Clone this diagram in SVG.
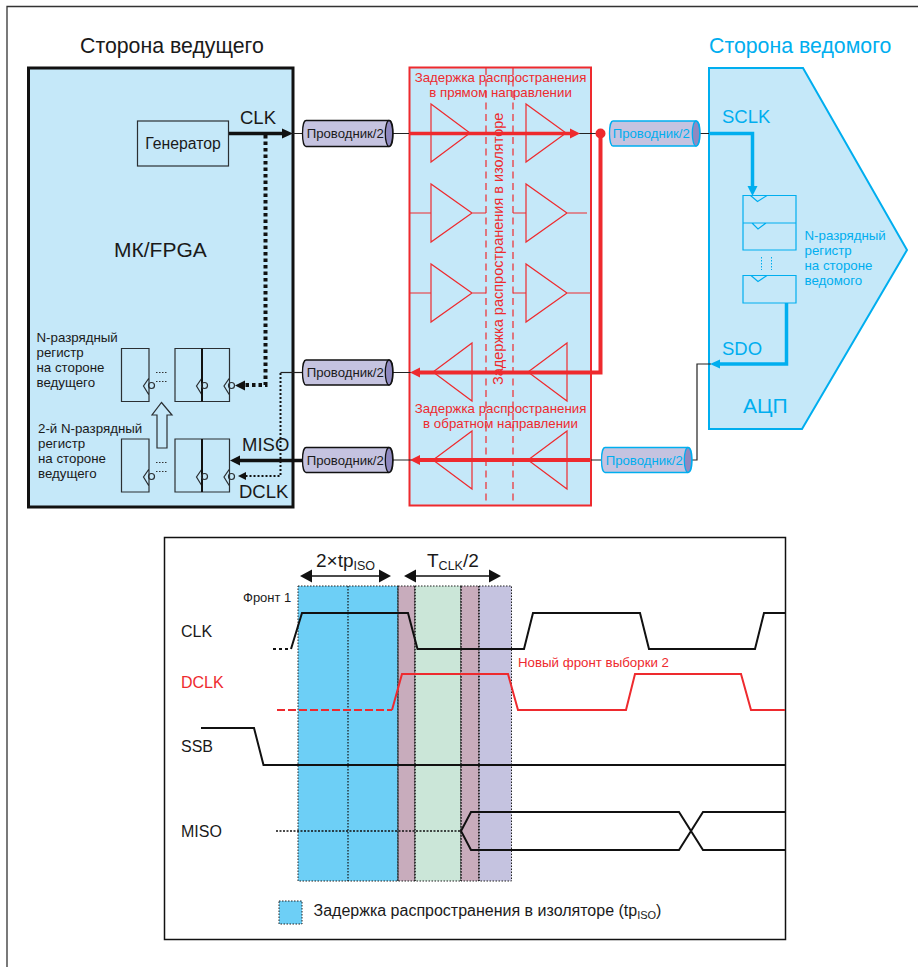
<svg xmlns="http://www.w3.org/2000/svg" width="918" height="967" viewBox="0 0 918 967">
<style>
text{font-family:"Liberation Sans",Arial,sans-serif;fill:#1a1a1a}
.r{fill:#ee2a2e}.b{fill:#00aeef}
.box{fill:#c5e8f9}
.reg{fill:none;stroke:#2b2f33;stroke-width:1.2}
.regb{fill:none;stroke:#00aeef;stroke-width:1.2}
.tri{fill:none;stroke:#ee2a2e;stroke-width:1.2}
.thin{fill:none;stroke:#222;stroke-width:1.2}
.dash{fill:none;stroke:#ee2a2e;stroke-width:1.2;stroke-dasharray:7 4.5}
.cyl{fill:#c5c3e0;stroke:#111;stroke-width:1.3}
.cylb{fill:#c5c3e0;stroke:#00aeef;stroke-width:1.3}
.end{fill:#8f89c0}
.band{stroke:#222;stroke-width:1;stroke-dasharray:1.5 1.5}
.sep{fill:none;stroke:#111;stroke-width:1.2;stroke-dasharray:1.5 1.5}
.w{fill:none;stroke:#111;stroke-width:2}
.wr{fill:none;stroke:#ee2a2e;stroke-width:2}
</style>
<path id="frame" d="M7 967V6.5H918" fill="none" stroke="#333" stroke-width="1.3"/>
<g id="master">
<rect x="28.500" y="68" width="264.500" height="439" class="box" stroke="#111" stroke-width="3"/>
<text x="80" y="53" font-size="21.300">Сторона ведущего</text>
<text x="114" y="257" font-size="21">МК/FPGA</text>
<text x="240" y="124" font-size="18.500">CLK</text>
<text x="242" y="451" font-size="18.500">MISO</text>
<text x="239" y="498" font-size="18.500">DCLK</text>
</g>
<g id="generator"><rect x="137.500" y="121" width="91" height="45" class="reg"/><text x="183" y="148.500" font-size="15.800" text-anchor="middle">Генератор</text></g>
<g id="master-register-1">
<path class="reg" d="M121.500 348.500h27.500v53h-27.500zM175 348.500h54.500v53h-54.500zM149 378l-5.500 8 5.500 9M202 378l-5.500 8 5.500 9M229.500 378l-5.500 8 5.500 9"/>
<path d="M202 348.500v53" stroke="#111" stroke-width="2" fill="none"/>
<g class="reg"><circle cx="151.500" cy="385.500" r="3"/><circle cx="204.500" cy="385.500" r="3"/><circle cx="231.500" cy="385.500" r="3"/></g>
<path d="M156 372.500h12M156 381.500h12" stroke="#333" stroke-dasharray="1.500 1.500" fill="none"/>
<text font-size="13.300"><tspan x="36.500" y="342">N-разрядный</tspan><tspan x="36.500" y="357">регистр</tspan><tspan x="36.500" y="372">на стороне</tspan><tspan x="36.500" y="387">ведущего</tspan></text>
</g>
<g id="master-register-2">
<path class="reg" d="M121.500 439h27.500v53h-27.500zM175 439h54.500v53h-54.500zM149 469l-5.500 8 5.500 9M202 469l-5.500 8 5.500 9M229.500 469l-5.500 8 5.500 9"/>
<path d="M202 439v53" stroke="#111" stroke-width="2" fill="none"/>
<g class="reg"><circle cx="151.500" cy="476.500" r="3"/><circle cx="204.500" cy="476.500" r="3"/><circle cx="231.500" cy="476.500" r="3"/></g>
<path d="M156 462.500h12M156 471.500h12" stroke="#333" stroke-dasharray="1.500 1.500" fill="none"/>
<text font-size="13.300"><tspan x="38" y="433">2-й N-разрядный</tspan><tspan x="38" y="448">регистр</tspan><tspan x="38" y="463">на стороне</tspan><tspan x="38" y="478">ведущего</tspan></text>
</g>
<path id="transfer-arrow" d="M161.500 402.500l10.500 12.500h-5v33h-10v-33h-5z" fill="none" stroke="#2b2f33" stroke-width="1.200"/>
<g id="isolator">
<rect x="409.500" y="67.500" width="181.500" height="438" class="box" stroke="#ee2a2e" stroke-width="2"/>
<path class="dash" d="M486 68V505M513 68V505"/>
<g class="tri">
<path d="M431 104V162L470 133ZM526 104V162L566 133Z"/>
<path d="M431 184V242L472 213ZM526 184V242L567 213ZM410 213H431M472 213H486M513 213H526M567 213H587"/>
<path d="M431 264V322L472 293ZM526 264V322L567 293ZM410 293H431M472 293H486M513 293H526M567 293H590"/>
<path d="M472 343V401L433 372ZM567 343V401L528 372Z"/>
<path d="M472 431V489L433 460ZM567 431V489L528 460Z"/>
</g>
<text class="r" x="500.500" y="82" text-anchor="middle" font-size="13.300">Задержка распространения</text>
<text class="r" x="500.500" y="97" text-anchor="middle" font-size="13.300">в прямом направлении</text>
<text class="r" x="500.500" y="413" text-anchor="middle" font-size="13.300">Задержка распространения</text>
<text class="r" x="500.500" y="428" text-anchor="middle" font-size="13.300">в обратном направлении</text>
<text class="r" transform="translate(503 385) rotate(-90)" font-size="14.500">Задержка распространения в изоляторе</text>
</g>
<g id="slave">
<path d="M709 68H803L907 250L802 429H709Z" class="box" stroke="#00aeef" stroke-width="2"/>
<text class="b" x="709" y="53" font-size="21.300">Сторона ведомого</text>
<text class="b" x="722" y="123" font-size="18.500">SCLK</text>
<text class="b" x="722" y="355" font-size="18.500">SDO</text>
<text class="b" x="743" y="413" font-size="21">АЦП</text>
</g>
<g id="slave-register">
<path class="regb" d="M743 195.500h53v27.500h-53zM743 223h53v27h-53zM743 275.500h53v27.500h-53zM750.500 195.500l7 6 9.500-6M752 223l6 6 8-6M751 275.500l7 6 9-6"/>
<path d="M761.500 257v13M771.500 257v13" stroke="#00aeef" stroke-dasharray="1.500 1.500" fill="none"/>
<text class="b" font-size="13.300"><tspan x="804.500" y="240">N-разрядный</tspan><tspan x="804.500" y="255">регистр</tspan><tspan x="804.500" y="270">на стороне</tspan><tspan x="804.500" y="285">ведомого</tspan></text>
</g>
<g id="connectors">
<path class="thin" d="M283 133.500H303M392 133.500H600M698 133.500H709M392 372.500H412M392 460H412M591 460H603M691 460H697V364H711" stroke-width="1.200"/>
<path d="M303 372.500H280.500" class="thin"/>
<path d="M280.500 373V476H240" fill="none" stroke="#111" stroke-width="2" stroke-dasharray="2 2"/>
<path d="M229 133.500H283" stroke="#111" stroke-width="3.500" fill="none"/>
<path d="M293 133.500L282 128.500V138.500Z" fill="#111"/>
<path d="M265.500 135V385H244" fill="none" stroke="#111" stroke-width="4" stroke-dasharray="3.500 3"/>
<path d="M235 385.500L245 380.500V390.500Z" fill="#111"/>
<path d="M238 476L246 472V480Z" fill="#111"/>
<path d="M303 460.500H240" stroke="#111" stroke-width="3.500" fill="none"/>
<path d="M230 460.500L240 455.500V465.500Z" fill="#111"/>
<path d="M409 133.500H571" stroke="#ee2a2e" stroke-width="3.500" fill="none"/>
<path d="M580 133.500L570 128.500V138.500Z" fill="#ee2a2e"/>
<circle cx="600.500" cy="133.500" r="5" fill="#ee2a2e"/>
<path d="M600.500 133.500V372.500H420" stroke="#ee2a2e" stroke-width="4" fill="none"/>
<path d="M410 372.500L420 367.500V377.500Z" fill="#ee2a2e"/>
<path d="M591 460H420" stroke="#ee2a2e" stroke-width="4" fill="none"/>
<path d="M410 460L420 455V465Z" fill="#ee2a2e"/>
<path d="M709 133.500H752.500V187" stroke="#00aeef" stroke-width="3.500" fill="none"/>
<path d="M752.500 196L747.500 186H757.500Z" fill="#00aeef"/>
<path d="M786.500 303V364H720" stroke="#00aeef" stroke-width="3.500" fill="none"/>
<path d="M710 364L720 359.500V368.500Z" fill="#00aeef"/>
</g>
<g id="wire-1"><path class="cyl" d="M306 120.500H389c2.500 0 4 5.500 4 13s-1.500 13-4 13H306c-2 0-3.500-5.500-3.500-13s1.500-13 3.500-13Z"/><ellipse class="cyl end" cx="389" cy="133.500" rx="3.700" ry="13"/><text x="306.700" y="138" font-size="13.200">Проводник/2</text></g>
<g id="wire-2"><path class="cyl" d="M306 360H389c2.500 0 4 5.500 4 12.500s-1.500 12.500-4 12.500H306c-2 0-3.500-5.500-3.500-12.500s1.500-12.500 3.500-12.500Z"/><ellipse class="cyl end" cx="389" cy="372.500" rx="3.700" ry="12.500"/><text x="306.700" y="377" font-size="13.200">Проводник/2</text></g>
<g id="wire-3"><path class="cyl" d="M306 447.500H389c2.500 0 4 5.500 4 12.500s-1.500 12.500-4 12.500H306c-2 0-3.500-5.500-3.500-12.500s1.500-12.500 3.500-12.500Z"/><ellipse class="cyl end" cx="389" cy="460" rx="3.700" ry="12.500"/><text x="306.700" y="464.500" font-size="13.200">Проводник/2</text></g>
<g id="wire-4"><path class="cylb" d="M613 121H696c2.500 0 4 5.500 4 12.500s-1.500 12.500-4 12.500H613c-2 0-3.500-5.500-3.500-12.500s1.500-12.500 3.500-12.500Z"/><ellipse class="cylb end" cx="696" cy="133.500" rx="3.700" ry="12.500"/><text class="b" x="612.700" y="138" font-size="13.200">Проводник/2</text></g>
<g id="wire-5"><path class="cylb" d="M605 447.500H688c2.500 0 4 5.500 4 12.500s-1.500 12.500-4 12.500H605c-2 0-3.500-5.500-3.500-12.500s1.500-12.500 3.500-12.500Z"/><ellipse class="cylb end" cx="688" cy="460" rx="3.700" ry="12.500"/><text class="b" x="605.700" y="464.500" font-size="13.200">Проводник/2</text></g>
<g id="timing">
<rect x="164.500" y="537.500" width="621" height="402" fill="#fff" stroke="#111" stroke-width="1.500"/>
<rect class="band" x="298" y="586" width="100" height="295" fill="#6dcff6"/>
<rect class="band" x="398" y="586" width="17" height="295" fill="#c8acbc"/>
<rect class="band" x="415" y="586" width="46" height="295" fill="#cbe6d8"/>
<rect class="band" x="461" y="586" width="18" height="295" fill="#c8acbc"/>
<rect class="band" x="479" y="586" width="32.500" height="295" fill="#c5c3e0"/>
<path class="sep" d="M348 586V881M398 586V881M415 586V881M461 586V881M479 586V881" stroke-width="1.300"/>
<path class="w" d="M291 649L302 613H408L417.500 649H524L533 613H640L649 649H755L764 613H785"/>
<path d="M273 649H291" stroke="#111" stroke-width="2" stroke-dasharray="3 3" fill="none"/>
<path class="wr" d="M392 710L402 674H508L518 710H626L635 674H741L751 710H785"/>
<path d="M277 710H392" stroke="#ee2a2e" stroke-width="2" stroke-dasharray="8 3" fill="none"/>
<path class="w" d="M201 728H254L263.500 765H785"/>
<path d="M276 831H461" stroke="#111" stroke-width="1.500" stroke-dasharray="2 1.500" fill="none"/>
<path class="w" d="M785 812H703L679 850H471L461 831L471 812H679L703 850H785"/>
<path d="M310 576H381M414 576H491" stroke="#111" stroke-width="1.500" fill="none"/>
<path d="M300 576L312 569.500V582.500ZM391 576L379 569.500V582.500ZM404 576L416 569.500V582.500ZM501 576L489 569.500V582.500Z" fill="#111"/>
<text x="316" y="567" font-size="19">2×tp<tspan font-size="12.500" dy="3">ISO</tspan></text>
<text x="427" y="567" font-size="19">T<tspan font-size="12.500" dy="3">CLK</tspan><tspan dy="-3">/2</tspan></text>
<text x="243" y="602" font-size="13">Фронт 1</text>
<text x="181" y="636.500" font-size="16">CLK</text>
<text class="r" x="181" y="687.500" font-size="16">DCLK</text>
<text x="181" y="751.500" font-size="16">SSB</text>
<text x="181" y="836.500" font-size="16">MISO</text>
<text class="r" x="518" y="667" font-size="13.300">Новый фронт выборки 2</text>
<rect class="band" x="279" y="901" width="23" height="23" fill="#6dcff6"/>
<text x="313.500" y="916" font-size="16">Задержка распространения в изоляторе (tp<tspan font-size="11" dy="2.500">ISO</tspan><tspan dy="-2.500">)</tspan></text>
</g>
</svg>
